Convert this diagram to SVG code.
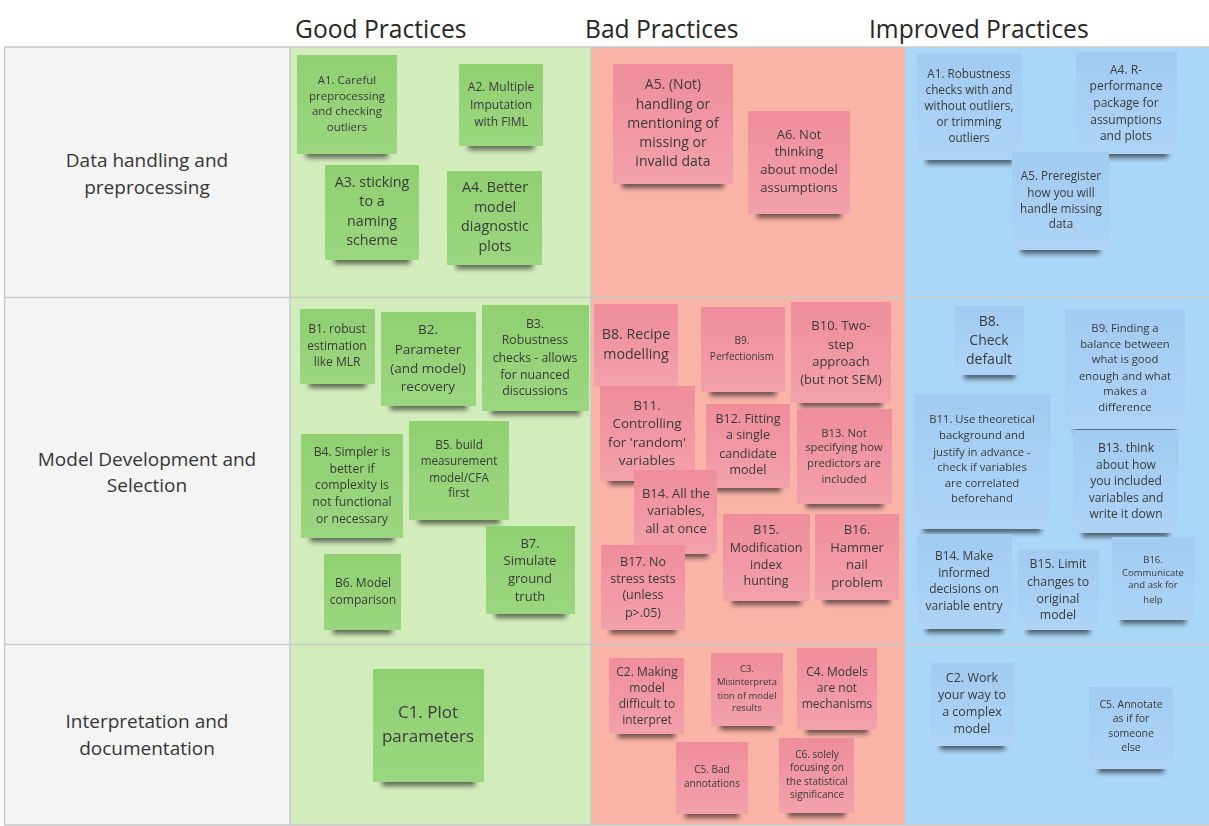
<svg xmlns="http://www.w3.org/2000/svg" width="1209" height="826" viewBox="0 0 1209 826">
<style>
.hdr{font-family:"Open Sans","Liberation Sans",sans-serif;font-size:24.6px;fill:#262626}
.row{font-family:"Open Sans","Liberation Sans",sans-serif;font-size:19px;fill:#363636;text-anchor:middle}
.t{font-family:"Open Sans","Liberation Sans",sans-serif;fill:#3a3a3a;text-anchor:middle}
.grid{stroke:#c9c9c9;stroke-width:1.5}
.ng{fill:url(#gG)}
.nb{fill:url(#gB)}
.ni{fill:url(#gI)}
.note{filter:url(#sh)}
</style>
<defs>
<linearGradient id="gG" x1="0" y1="0" x2="0" y2="1"><stop offset="0" stop-color="#90d071"/><stop offset="1" stop-color="#9bd680"/></linearGradient>
<linearGradient id="gB" x1="0" y1="0" x2="0" y2="1"><stop offset="0" stop-color="#ef8d9b"/><stop offset="1" stop-color="#f3a1ab"/></linearGradient>
<linearGradient id="gI" x1="0" y1="0" x2="0" y2="1"><stop offset="0" stop-color="#a2cbf2"/><stop offset="1" stop-color="#add4f6"/></linearGradient>
<filter id="sh" x="-10%" y="-10%" width="120%" height="130%">
<feMorphology in="SourceAlpha" operator="erode" radius="9 1" result="e"/>
<feOffset in="e" dy="5" result="o"/>
<feGaussianBlur in="o" stdDeviation="2.5" result="b"/>
<feComponentTransfer in="b" result="s"><feFuncA type="linear" slope="0.55"/></feComponentTransfer>
<feMerge><feMergeNode in="s"/><feMergeNode in="SourceGraphic"/></feMerge>
</filter>
</defs>

<g id="background">
<rect x="0" y="0" width="1209" height="826" fill="#ffffff"/>
<rect x="4" y="47" width="286" height="778" fill="#f4f4f4"/>
<rect x="290" y="47" width="301" height="778" fill="#d3ecbc"/>
<rect x="591" y="47" width="314" height="778" fill="#fab4a7"/>
<rect x="905" y="47" width="304" height="778" fill="#aad7f8"/>
<g class="grid" fill="none">
<line x1="4" y1="47" x2="1209" y2="47"/>
<line x1="4" y1="297.5" x2="1209" y2="297.5"/>
<line x1="4" y1="644.5" x2="1209" y2="644.5"/>
<line x1="4" y1="825" x2="1209" y2="825"/>
<line x1="4.5" y1="47" x2="4.5" y2="825"/>
<line x1="290" y1="47" x2="290" y2="825"/>
<line x1="591" y1="47" x2="591" y2="825"/>
<line x1="905" y1="47" x2="905" y2="825"/>
</g>
</g>

<g id="headers">
<text class="hdr" x="295" y="38">Good Practices</text>
<text class="hdr" x="585" y="38">Bad Practices</text>
<text class="hdr" x="869" y="38">Improved Practices</text>
</g>

<g id="rowlabels">
<text class="row" x="147" y="167">Data handling and</text>
<text class="row" x="147" y="194">preprocessing</text>
<text class="row" x="147" y="466">Model Development and</text>
<text class="row" x="147" y="492">Selection</text>
<text class="row" x="147" y="728">Interpretation and</text>
<text class="row" x="147" y="755">documentation</text>
</g>

<g id="connectors"></g>

<!-- Good practices -->
<g id="good-A1" class="note"><rect class="ng" x="297" y="55" width="100" height="99"/>
<text class="t" font-size="11.5"><tspan x="347" y="84">A1. Careful</tspan><tspan x="347" y="100">preprocessing</tspan><tspan x="347" y="115">and checking</tspan><tspan x="347" y="131">outliers</tspan></text></g>
<g id="good-A2" class="note"><rect class="ng" x="459" y="64" width="84" height="82"/>
<text class="t" font-size="12"><tspan x="501" y="91">A2. Multiple</tspan><tspan x="501" y="109">Imputation</tspan><tspan x="501" y="126">with FIML</tspan></text></g>
<g id="good-A3" class="note"><rect class="ng" x="325" y="165" width="94" height="95"/>
<text class="t" font-size="14.3"><tspan x="372" y="187">A3. sticking</tspan><tspan x="372" y="206">to a</tspan><tspan x="372" y="226">naming</tspan><tspan x="372" y="245">scheme</tspan></text></g>
<g id="good-A4" class="note"><rect class="ng" x="447" y="171" width="95" height="94"/>
<text class="t" font-size="14.3"><tspan x="495" y="192">A4. Better</tspan><tspan x="495" y="212">model</tspan><tspan x="495" y="231">diagnostic</tspan><tspan x="495" y="251">plots</tspan></text></g>
<g id="good-B1" class="note"><rect class="ng" x="300" y="309" width="75" height="75"/>
<text class="t" font-size="12"><tspan x="337" y="333">B1. robust</tspan><tspan x="337" y="350">estimation</tspan><tspan x="337" y="366">like MLR</tspan></text></g>
<g id="good-B2" class="note"><rect class="ng" x="381" y="312" width="95" height="94"/>
<text class="t" font-size="13.5"><tspan x="428" y="334">B2.</tspan><tspan x="428" y="354">Parameter</tspan><tspan x="428" y="373">(and model)</tspan><tspan x="428" y="391">recovery</tspan></text></g>
<g id="good-B3" class="note"><rect class="ng" x="482" y="305" width="107" height="106"/>
<text class="t" font-size="12.3"><tspan x="535" y="328">B3.</tspan><tspan x="535" y="344">Robustness</tspan><tspan x="535" y="362">checks - allows</tspan><tspan x="535" y="379">for nuanced</tspan><tspan x="535" y="395">discussions</tspan></text></g>
<g id="good-B4" class="note"><rect class="ng" x="301" y="434" width="102" height="104"/>
<text class="t" font-size="12.2"><tspan x="352" y="456">B4. Simpler is</tspan><tspan x="352" y="473">better if</tspan><tspan x="352" y="489">complexity is</tspan><tspan x="352" y="506">not functional</tspan><tspan x="352" y="523">or necessary</tspan></text></g>
<g id="good-B5" class="note"><rect class="ng" x="409" y="421" width="100" height="99"/>
<text class="t" font-size="11.7"><tspan x="459" y="449">B5. build</tspan><tspan x="459" y="465">measurement</tspan><tspan x="459" y="482">model/CFA</tspan><tspan x="459" y="497">first</tspan></text></g>
<g id="good-B6" class="note"><rect class="ng" x="324" y="554" width="77" height="76"/>
<text class="t" font-size="12"><tspan x="363" y="587">B6. Model</tspan><tspan x="363" y="604">comparison</tspan></text></g>
<g id="good-B7" class="note"><rect class="ng" x="486" y="526" width="89" height="88"/>
<text class="t" font-size="13"><tspan x="530" y="548">B7.</tspan><tspan x="530" y="565">Simulate</tspan><tspan x="530" y="583">ground</tspan><tspan x="530" y="601">truth</tspan></text></g>
<g id="good-C1" class="note"><rect class="ng" x="373" y="669" width="111" height="113"/>
<text class="t" font-size="17"><tspan x="428" y="718">C1. Plot</tspan><tspan x="428" y="742">parameters</tspan></text></g>

<!-- Bad practices -->
<g id="bad-A5" class="note"><rect class="nb" x="613" y="64" width="120" height="120"/>
<text class="t" font-size="14"><tspan x="673" y="89">A5. (Not)</tspan><tspan x="673" y="109">handling or</tspan><tspan x="673" y="128">mentioning of</tspan><tspan x="673" y="147">missing or</tspan><tspan x="673" y="166">invalid data</tspan></text></g>
<g id="bad-A6" class="note"><rect class="nb" x="748" y="111" width="102" height="103"/>
<text class="t" font-size="13"><tspan x="799" y="139">A6. Not</tspan><tspan x="799" y="156">thinking</tspan><tspan x="799" y="174">about model</tspan><tspan x="799" y="192">assumptions</tspan></text></g>
<g id="bad-B8" class="note"><rect class="nb" x="594" y="304" width="84" height="82"/>
<text class="t" font-size="14.2"><tspan x="636" y="339">B8. Recipe</tspan><tspan x="636" y="359">modelling</tspan></text></g>
<g id="bad-B9" class="note"><rect class="nb" x="701" y="307" width="84" height="85"/>
<text class="t" font-size="10"><tspan x="742" y="344">B9.</tspan><tspan x="742" y="360">Perfectionism</tspan></text></g>
<g id="bad-B10" class="note"><rect class="nb" x="791" y="302" width="100" height="101"/>
<text class="t" font-size="13"><tspan x="841" y="330">B10. Two-</tspan><tspan x="841" y="349">step</tspan><tspan x="841" y="366">approach</tspan><tspan x="841" y="384">(but not SEM)</tspan></text></g>
<g id="bad-B11" class="note"><rect class="nb" x="600" y="386" width="95" height="95"/>
<text class="t" font-size="13.5"><tspan x="647" y="410">B11.</tspan><tspan x="647" y="428">Controlling</tspan><tspan x="647" y="447">for 'random'</tspan><tspan x="647" y="465">variables</tspan></text></g>
<g id="bad-B12" class="note"><rect class="nb" x="706" y="404" width="84" height="84"/>
<text class="t" font-size="12.5"><tspan x="748" y="423">B12. Fitting</tspan><tspan x="748" y="439">a single</tspan><tspan x="748" y="458">candidate</tspan><tspan x="748" y="474">model</tspan></text></g>
<g id="bad-B13" class="note"><rect class="nb" x="797" y="409" width="95" height="95"/>
<text class="t" font-size="11.3"><tspan x="844" y="437">B13. Not</tspan><tspan x="844" y="451">specifying how</tspan><tspan x="844" y="467">predictors are</tspan><tspan x="844" y="483">included</tspan></text></g>
<g id="bad-B14" class="note"><rect class="nb" x="634" y="470" width="83" height="84"/>
<text class="t" font-size="13"><tspan x="676" y="498">B14. All the</tspan><tspan x="676" y="515">variables,</tspan><tspan x="676" y="533">all at once</tspan></text></g>
<g id="bad-B15" class="note"><rect class="nb" x="723" y="514" width="87" height="87"/>
<text class="t" font-size="12.5"><tspan x="766" y="534">B15.</tspan><tspan x="766" y="552">Modification</tspan><tspan x="766" y="569">index</tspan><tspan x="766" y="585">hunting</tspan></text></g>
<g id="bad-B16" class="note"><rect class="nb" x="815" y="514" width="84" height="86"/>
<text class="t" font-size="13"><tspan x="857" y="534">B16.</tspan><tspan x="857" y="552">Hammer</tspan><tspan x="857" y="569">nail</tspan><tspan x="857" y="587">problem</tspan></text></g>
<g id="bad-B17" class="note"><rect class="nb" x="601" y="545" width="84" height="85"/>
<text class="t" font-size="12.5"><tspan x="643" y="566">B17. No</tspan><tspan x="643" y="583">stress tests</tspan><tspan x="643" y="599">(unless</tspan><tspan x="643" y="617">p&gt;.05)</tspan></text></g>
<g id="bad-C2" class="note"><rect class="nb" x="609" y="658" width="75" height="76"/>
<text class="t" font-size="12"><tspan x="647" y="676">C2. Making</tspan><tspan x="647" y="692">model</tspan><tspan x="647" y="708">difficult to</tspan><tspan x="647" y="724">interpret</tspan></text></g>
<g id="bad-C3" class="note"><rect class="nb" x="711" y="653" width="72" height="73"/>
<text class="t" font-size="9.5"><tspan x="747" y="672">C3.</tspan><tspan x="747" y="685">Misinterpreta</tspan><tspan x="747" y="699">tion of model</tspan><tspan x="747" y="711">results</tspan></text></g>
<g id="bad-C4" class="note"><rect class="nb" x="797" y="648" width="80" height="82"/>
<text class="t" font-size="12"><tspan x="837" y="676">C4. Models</tspan><tspan x="837" y="692">are not</tspan><tspan x="837" y="708">mechanisms</tspan></text></g>
<g id="bad-C5" class="note"><rect class="nb" x="676" y="742" width="72" height="72"/>
<text class="t" font-size="10"><tspan x="712" y="773">C5. Bad</tspan><tspan x="712" y="787">annotations</tspan></text></g>
<g id="bad-C6" class="note"><rect class="nb" x="779" y="738" width="75" height="75"/>
<text class="t" font-size="10"><tspan x="817" y="758">C6. solely</tspan><tspan x="817" y="771">focusing on</tspan><tspan x="817" y="785">the statistical</tspan><tspan x="817" y="798">significance</tspan></text></g>

<!-- Improved practices -->
<g id="imp-A1" class="note"><rect class="ni" x="917" y="54" width="105" height="106"/>
<text class="t" font-size="11.7"><tspan x="969" y="78">A1. Robustness</tspan><tspan x="969" y="94">checks with and</tspan><tspan x="969" y="110">without outliers,</tspan><tspan x="969" y="126">or trimming</tspan><tspan x="969" y="142">outliers</tspan></text></g>
<g id="imp-A4" class="note"><rect class="ni" x="1076" y="52" width="101" height="102"/>
<text class="t" font-size="12"><tspan x="1126" y="74">A4. R-</tspan><tspan x="1126" y="90">performance</tspan><tspan x="1126" y="107">package for</tspan><tspan x="1126" y="124">assumptions</tspan><tspan x="1126" y="140">and plots</tspan></text></g>
<g id="imp-A5" class="note"><rect class="ni" x="1012" y="152" width="97" height="98"/>
<text class="t" font-size="11.7"><tspan x="1061" y="180">A5. Preregister</tspan><tspan x="1061" y="197">how you will</tspan><tspan x="1061" y="213">handle missing</tspan><tspan x="1061" y="228">data</tspan></text></g>
<g id="imp-B8" class="note"><rect class="ni" x="955" y="306" width="69" height="69"/>
<text class="t" font-size="14"><tspan x="989" y="326">B8.</tspan><tspan x="989" y="345">Check</tspan><tspan x="989" y="364">default</tspan></text></g>
<g id="imp-B9" class="note"><rect class="ni" x="1065" y="309" width="120" height="120"/>
<text class="t" font-size="11.3"><tspan x="1125" y="332">B9. Finding a</tspan><tspan x="1125" y="348">balance between</tspan><tspan x="1125" y="363">what is good</tspan><tspan x="1125" y="380">enough and what</tspan><tspan x="1125" y="395">makes a</tspan><tspan x="1125" y="411">difference</tspan></text></g>
<g id="imp-B11" class="note"><rect class="ni" x="914" y="394" width="136" height="135"/>
<text class="t" font-size="11.3"><tspan x="982" y="423">B11. Use theoretical</tspan><tspan x="982" y="439">background and</tspan><tspan x="982" y="456">justify in advance -</tspan><tspan x="982" y="471">check if variables</tspan><tspan x="982" y="487">are correlated</tspan><tspan x="982" y="502">beforehand</tspan></text></g>
<g id="imp-B13" class="note"><rect class="ni" x="1073" y="430" width="105" height="103"/>
<text class="t" font-size="12"><tspan x="1126" y="452">B13. think</tspan><tspan x="1126" y="469">about how</tspan><tspan x="1126" y="485">you included</tspan><tspan x="1126" y="502">variables and</tspan><tspan x="1126" y="518">write it down</tspan></text></g>
<g id="imp-B14" class="note"><rect class="ni" x="917" y="534" width="95" height="95"/>
<text class="t" font-size="12"><tspan x="964" y="560">B14. Make</tspan><tspan x="964" y="577">informed</tspan><tspan x="964" y="593">decisions on</tspan><tspan x="964" y="610">variable entry</tspan></text></g>
<g id="imp-B15" class="note"><rect class="ni" x="1018" y="550" width="81" height="80"/>
<text class="t" font-size="12.3"><tspan x="1058" y="568">B15. Limit</tspan><tspan x="1058" y="586">changes to</tspan><tspan x="1058" y="603">original</tspan><tspan x="1058" y="619">model</tspan></text></g>
<g id="imp-B16" class="note"><rect class="ni" x="1112" y="537" width="83" height="83"/>
<text class="t" font-size="9.5"><tspan x="1153" y="563">B16.</tspan><tspan x="1153" y="576">Communicate</tspan><tspan x="1153" y="588">and ask for</tspan><tspan x="1153" y="603">help</tspan></text></g>
<g id="imp-C2" class="note"><rect class="ni" x="931" y="663" width="83" height="83"/>
<text class="t" font-size="12.5"><tspan x="972" y="682">C2. Work</tspan><tspan x="972" y="699">your way to</tspan><tspan x="972" y="716">a complex</tspan><tspan x="972" y="733">model</tspan></text></g>
<g id="imp-C5" class="note"><rect class="ni" x="1089" y="687" width="84" height="82"/>
<text class="t" font-size="10.5"><tspan x="1131" y="708">C5. Annotate</tspan><tspan x="1131" y="722">as if for</tspan><tspan x="1131" y="737">someone</tspan><tspan x="1131" y="751">else</tspan></text></g>
</svg>
